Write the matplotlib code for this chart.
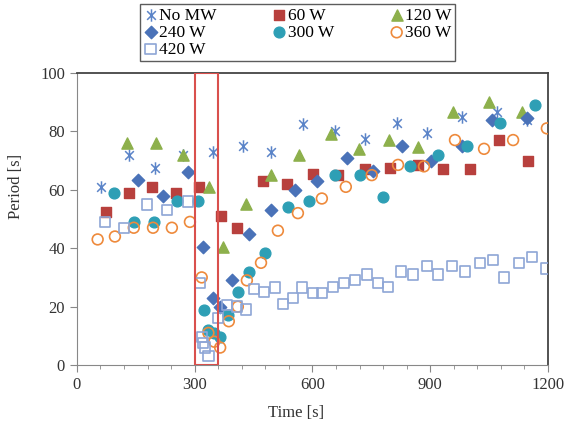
import matplotlib.pyplot as plt
from matplotlib.patches import Rectangle
from matplotlib.path import Path

# Period [s] vs time [s] for each microwave power level
t_nomw = [61, 132, 199, 270, 346, 423, 494, 576, 657, 734, 815, 892, 981, 1070, 1146]
p_nomw = [61, 72, 67.5, 72, 73, 75, 73, 82.5, 80, 77.5, 83, 79.5, 85, 86.5, 84]

t_60 = [74, 132, 191, 252, 311, 366, 408, 474, 535, 601, 665, 734, 797, 869, 933, 1001, 1075, 1149]
p_60 = [52.5, 59, 61, 59, 61, 51, 47, 63, 62, 65.5, 65, 67, 67.5, 68.5, 67, 67, 77, 70]

t_120 = [127, 201, 270, 336, 372, 430, 494, 566, 647, 718, 795, 868, 958, 1050, 1134]
p_120 = [76, 76, 72, 61, 40.5, 55, 65, 72, 79, 74, 77, 74.7, 86.7, 90, 86.7]

t_240 = [155, 219, 283, 321, 347, 365, 395, 438, 494, 555, 611, 688, 754, 828, 902, 981, 1057, 1146]
p_240 = [63.5, 58, 66, 40.5, 23, 20, 29, 45, 53, 60, 63, 71, 66.5, 75, 70, 75, 84, 84.5]

t_300 = [94, 145, 196, 255, 308, 323, 334, 350, 365, 385, 410, 438, 479, 538, 591,
         657, 721, 780, 848, 920, 994, 1078, 1167]
p_300 = [59, 49, 49, 56, 56, 19, 12, 11, 9.5, 17, 25, 32, 38.5, 54, 56,
         65, 65, 57.5, 68, 72, 75, 83, 89]

t_360 = [53, 97, 145, 194, 242, 288, 318, 335, 350, 365, 387, 410, 433, 469, 512,
         563, 624, 685, 751, 818, 884, 963, 1037, 1111, 1197]
p_360 = [43, 44, 47, 47, 47, 49, 30, 11, 8, 6, 15, 20, 29, 35, 46,
         52, 57, 61, 65, 68.5, 68, 77, 74, 77, 81]

t_420 = [71, 120, 178, 229, 283, 313, 318, 322, 327, 335, 359, 382, 408, 431, 451,
         476, 504, 525, 550, 573, 601, 624, 652, 680, 708, 739, 767, 792, 825, 856,
         892, 920, 955, 988, 1027, 1060, 1088, 1126, 1159, 1195]
p_420 = [49, 47, 55, 53, 56, 28, 9.5, 7.5, 6, 3, 16, 20.5, 20, 19, 26,
         25, 26.5, 21, 23, 26.5, 24.7, 24.7, 26.7, 28, 29, 31, 28, 26.7, 32, 31,
         34, 31, 34, 32, 35, 36, 30, 35, 37, 33]

plt.rcParams["font.family"] = ["Liberation Serif", "DejaVu Serif"]

# Excel-style star: an X with a vertical bar
star = Path([(-0.7, -0.7), (0.7, 0.7), (-0.7, 0.7), (0.7, -0.7), (0, -1), (0, 1)],
            [Path.MOVETO, Path.LINETO, Path.MOVETO, Path.LINETO, Path.MOVETO, Path.LINETO])

fig = plt.figure(figsize=(5.65, 4.26), dpi=100)
ax = fig.add_axes([0.136, 0.143, 0.834, 0.686])

h_nomw = ax.scatter(t_nomw, p_nomw, marker=star, s=80, color="#5B84C8", linewidths=1.1, label="No MW", zorder=3)
h_60 = ax.scatter(t_60, p_60, marker="s", s=55, color="#B8403D", label="60 W", zorder=3)
h_120 = ax.scatter(t_120, p_120, marker="^", s=65, color="#8DB04C", label="120 W", zorder=3)
h_240 = ax.scatter(t_240, p_240, marker="D", s=40, color="#4A72B8", label="240 W", zorder=3)
h_300 = ax.scatter(t_300, p_300, marker="o", s=60, color="#2E9FB5", label="300 W", zorder=3)
h_360 = ax.scatter(t_360, p_360, marker="o", s=60, facecolors="none", edgecolors="#EE8A3C",
                   linewidths=1.2, label="360 W", zorder=3)
h_420 = ax.scatter(t_420, p_420, marker="s", s=55, facecolors="none", edgecolors="#8EA6D6",
                   linewidths=1.2, label="420 W", zorder=3)

# highlighted window
ax.add_patch(Rectangle((300, 0), 60, 100, fill=False, edgecolor="#D9504D", linewidth=1.5, zorder=4))

ax.set_xlim(0, 1200)
ax.set_ylim(0, 100)
ax.set_xticks(range(0, 1201, 300))
ax.set_xticks(range(0, 1201, 60), minor=True)
ax.set_yticks(range(0, 101, 20))
ax.tick_params(axis="both", which="major", direction="out", length=5, color="#888888",
               labelsize=12, labelcolor="#333333")
ax.tick_params(axis="x", which="minor", direction="out", length=3, color="#888888")
for side in ["left", "bottom"]:
    ax.spines[side].set_color("#888888")
for side in ["top", "right"]:
    ax.spines[side].set_color("#444444")
    ax.spines[side].set_linewidth(1.3)

ax.set_xlabel("Time [s]", fontsize=12, color="#333333")
ax.set_ylabel("Period [s]", fontsize=12, color="#333333")
ax.xaxis.set_label_coords(0.465, -0.135)
ax.yaxis.set_label_coords(-0.113, 0.61)

# row-major order, as in the original legend
handles = [h_nomw, h_240, h_420, h_60, h_300, h_120, h_360]
leg = fig.legend(handles=handles, labels=[h.get_label() for h in handles],
                 loc="center", bbox_to_anchor=(0.527, 0.923), ncol=3, fontsize=12.5,
                 frameon=True, fancybox=False, edgecolor="#333333", borderpad=0.2,
                 labelspacing=0.05, handlelength=0.8, handletextpad=0.1,
                 columnspacing=3.2, borderaxespad=0)
leg.get_frame().set_linewidth(1.0)

fig.savefig("out.png", dpi=100)
